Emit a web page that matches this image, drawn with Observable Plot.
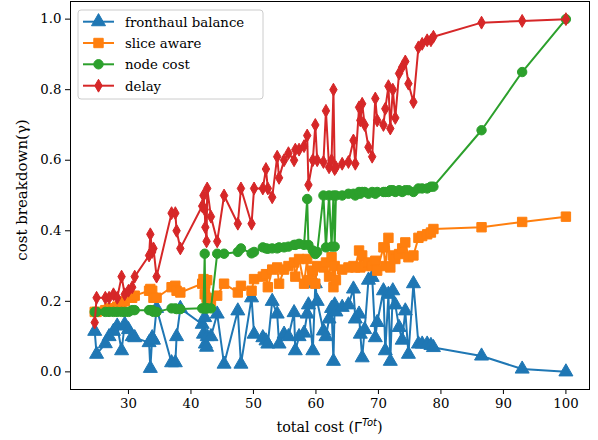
<!DOCTYPE html>
<html>
<head>
<meta charset="utf-8">
<script src="https://cdn.jsdelivr.net/npm/d3@7"></script>
<script src="https://cdn.jsdelivr.net/npm/@observablehq/plot@0.6"></script>
<style>
  html, body { margin: 0; padding: 0; background: #fff; }
  #chart { width: 598px; height: 440px; }
  svg, svg text { font-family: 'DejaVu Serif', 'Liberation Serif', serif; }
  svg text.sans, svg tspan.sans { font-family: 'DejaVu Sans', sans-serif; }
</style>
</head>
<body>
<div id="chart"></div>
<script>
const totalCost = [24.6,24.9,26.3,26.9,27.6,28.2,28.9,29.4,30.0,30.6,31.0,33.3,33.5,33.8,34.0,34.5,36.9,37.5,37.7,38.3,41.8,42.0,42.2,42.3,42.5,42.6,43.2,44.2,45.3,47.5,48.0,49.7,50.1,51.5,52.0,52.3,53.0,53.8,54.1,54.9,55.6,56.5,56.7,57.3,58.1,58.6,58.8,59.5,59.9,60.2,61.2,61.6,62.1,62.5,62.8,63.0,63.2,64.2,65.2,66.0,66.3,66.9,67.1,67.4,67.8,68.4,69.0,69.5,69.8,70.8,71.1,71.6,71.9,72.3,72.7,73.3,73.8,74.3,74.8,75.6,76.4,77.0,77.8,78.4,78.8,86.5,93.0,100];

const fronthaulBalance = [0.115,0.05,0.08,0.10,0.115,0.13,0.06,0.135,0.12,0.10,0.097,0.083,0.01,0.097,0.09,0.18,0.026,0.026,0.10,0.18,0.135,0.107,0.154,0.079,0.07,0.10,0.10,0.164,0.022,0.173,0.022,0.21,0.107,0.097,0.088,0.079,0.20,0.164,0.079,0.107,0.10,0.168,0.06,0.10,0.11,0.164,0.19,0.06,0.25,0.20,0.116,0.10,0.15,0.18,0.03,0.19,0.17,0.183,0.19,0.235,0.15,0.164,0.107,0.04,0.12,0.26,0.268,0.097,0.14,0.23,0.06,0.22,0.03,0.23,0.19,0.126,0.09,0.173,0.05,0.25,0.079,0.079,0.079,0.075,0.069,0.045,0.008,0.0];

const sliceAware = [0.17,0.17,0.175,0.18,0.18,0.185,0.19,0.20,0.21,0.21,0.216,0.23,0.235,0.23,0.21,0.21,0.24,0.244,0.23,0.225,0.25,0.263,0.22,0.25,0.21,0.26,0.20,0.216,0.25,0.225,0.244,0.23,0.263,0.27,0.277,0.24,0.29,0.296,0.25,0.29,0.30,0.31,0.27,0.32,0.25,0.32,0.26,0.287,0.25,0.30,0.296,0.31,0.27,0.325,0.24,0.30,0.26,0.29,0.296,0.30,0.296,0.344,0.296,0.33,0.30,0.31,0.30,0.315,0.287,0.353,0.30,0.38,0.296,0.33,0.32,0.334,0.35,0.367,0.325,0.33,0.38,0.385,0.39,0.395,0.405,0.41,0.425,0.44];

const nodeCost = [0.17,0.17,0.17,0.17,0.17,0.17,0.17,0.17,0.17,0.175,0.175,0.175,0.175,0.175,0.17,0.17,0.18,0.18,0.178,0.178,0.18,0.18,0.335,0.18,0.18,0.18,0.18,0.335,0.335,0.34,0.35,0.336,0.34,0.353,0.35,0.349,0.35,0.35,0.353,0.353,0.355,0.36,0.36,0.363,0.36,0.49,0.36,0.344,0.334,0.34,0.50,0.353,0.50,0.355,0.50,0.355,0.50,0.50,0.505,0.505,0.50,0.51,0.505,0.51,0.51,0.505,0.51,0.505,0.51,0.51,0.51,0.51,0.515,0.515,0.51,0.515,0.51,0.515,0.515,0.51,0.52,0.52,0.52,0.525,0.525,0.685,0.85,1.0];

const delay = [0.14,0.21,0.21,0.21,0.22,0.21,0.27,0.22,0.23,0.24,0.27,0.33,0.39,0.34,0.35,0.27,0.45,0.45,0.40,0.35,0.47,0.50,0.46,0.41,0.37,0.52,0.44,0.37,0.50,0.42,0.52,0.42,0.52,0.52,0.575,0.52,0.495,0.61,0.55,0.60,0.62,0.60,0.63,0.63,0.64,0.67,0.53,0.60,0.70,0.60,0.595,0.74,0.58,0.60,0.80,0.575,0.58,0.59,0.595,0.656,0.59,0.75,0.713,0.76,0.70,0.637,0.61,0.775,0.713,0.70,0.746,0.81,0.69,0.80,0.72,0.846,0.864,0.88,0.817,0.765,0.92,0.93,0.94,0.94,0.95,0.99,0.995,1.0];

const seriesNames = ["fronthaul balance", "slice aware", "node cost", "delay"];
const seriesColors = ["#1f77b4", "#ff7f0e", "#2ca02c", "#d62728"];
const seriesSymbols = ["triangle", "square", "circle", "diamond"];
const seriesR = [5.2, 5.3, 4.7, 3.9];
const xTicks = [30, 40, 50, 60, 70, 80, 90, 100];
const yTicks = [0.0, 0.2, 0.4, 0.6, 0.8, 1.0];

const seriesValues = [fronthaulBalance, sliceAware, nodeCost, delay];

const marks = [];
seriesNames.forEach((name, i) => {
  const rows = totalCost.map((x, j) => ({x, y: seriesValues[i][j], series: name}));
  marks.push(Plot.line(rows, {x: "x", y: "y", stroke: seriesColors[i], strokeWidth: 2}));
  marks.push(Plot.dot(rows, {x: "x", y: "y", symbol: () => seriesSymbols[i], r: seriesR[i], fill: seriesColors[i], stroke: seriesColors[i], strokeWidth: 1}));
});

const chart = Plot.plot({
  width: 598,
  height: 440,
  marginLeft: 70,
  marginRight: 9,
  marginTop: 1,
  marginBottom: 51,
  style: {fontFamily: "'DejaVu Serif', 'Liberation Serif', serif", fontSize: "13.3px", background: "white", color: "black"},
  x: {domain: [20.725, 103.775]},
  y: {domain: [-0.05, 1.05]},
  marks: [
    ...marks,
    Plot.frame({stroke: "black", strokeWidth: 1}),
    Plot.axisX({ticks: xTicks, tickSize: 5, tickPadding: 4, label: null, tickFormat: d => String(d), fontSize: 13.3}),
    Plot.axisY({ticks: yTicks, tickSize: 5, tickPadding: 4, label: null, tickFormat: d3.format(".1f"), fontSize: 13.3})
  ]
});

document.getElementById("chart").appendChild(chart);

const svg = d3.select(chart);
const ns = svg.append("g").attr("fill", "black");

// x label with superscript italic
const xl = ns.append("text").attr("x", 329.5).attr("y", 432).attr("text-anchor", "middle").attr("font-size", 14.3);
xl.append("tspan").text("total cost (");
xl.append("tspan").attr("class", "sans").text("Γ");
xl.append("tspan").attr("class", "sans").attr("font-style", "italic").attr("font-size", 10).attr("dy", -6).text("Tot");
xl.append("tspan").attr("dy", 6).text(")");

// y label
ns.append("text")
  .attr("transform", "translate(27,190) rotate(-90)")
  .attr("text-anchor", "middle")
  .attr("font-size", 15)
  .text("cost breakdown(γ)");

// legend
const lg = svg.append("g");
lg.append("rect").attr("x", 78).attr("y", 10).attr("width", 185).attr("height", 89)
  .attr("rx", 3).attr("fill", "white").attr("fill-opacity", 0.8).attr("stroke", "#cccccc").attr("stroke-width", 1);
const rowY = [21.7, 43, 64.3, 85.7];
const symMap = {triangle: d3.symbolTriangle, square: d3.symbolSquare, circle: d3.symbolCircle, diamond: d3.symbolDiamond};
seriesNames.forEach((name, i) => {
  const y = rowY[i];
  lg.append("line").attr("x1", 83).attr("x2", 114).attr("y1", y).attr("y2", y)
    .attr("stroke", seriesColors[i]).attr("stroke-width", 2);
  lg.append("path").attr("transform", `translate(98.5,${y})`)
    .attr("d", d3.symbol(symMap[seriesSymbols[i]], Math.PI * seriesR[i] * seriesR[i])())
    .attr("fill", seriesColors[i]).attr("stroke", seriesColors[i]).attr("stroke-width", 1);
  lg.append("text").attr("x", 125).attr("y", y + 4.8)
    .attr("text-anchor", "start")
    .attr("font-size", 13.3).attr("fill", "black").text(name);
});
</script>
</body>
</html>
